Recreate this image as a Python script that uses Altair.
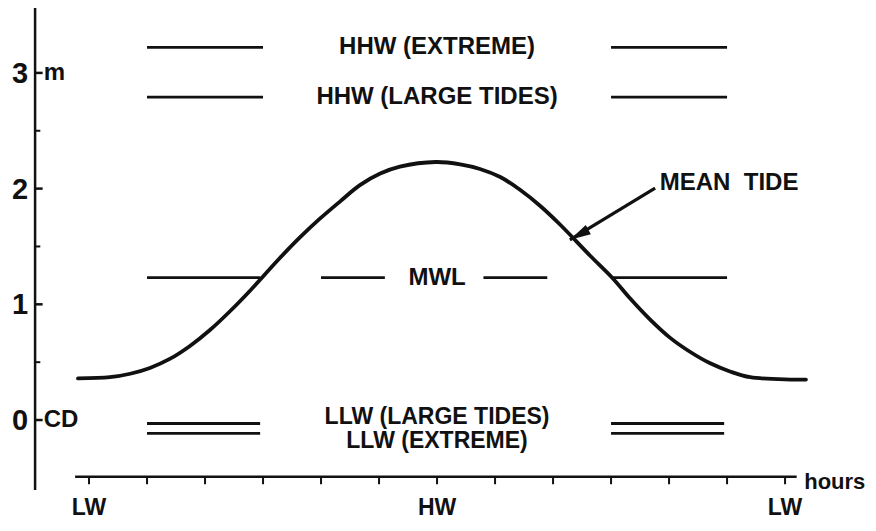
import altair as alt
import pandas as pd

# ---- data (hours after LW, metres above Chart Datum) ----
tide_hours = [-0.19, 0.36, 0.71, 1.05, 1.40, 1.74, 2.09, 2.43, 2.78, 3.29, 3.64, 3.98, 4.33,
              4.67, 5.02, 5.36, 5.98, 6.40, 6.74, 7.09, 7.43, 7.78, 8.12, 8.64, 9.02, 9.33,
              9.67, 10.02, 10.36, 10.71, 11.05, 11.40, 12.09, 12.36]
tide_levels = [0.36, 0.37, 0.40, 0.45, 0.53, 0.64, 0.78, 0.94, 1.12, 1.40, 1.58, 1.74, 1.89,
               2.03, 2.13, 2.19, 2.23, 2.21, 2.17, 2.10, 1.99, 1.85, 1.69, 1.42, 1.23, 1.05,
               0.87, 0.71, 0.59, 0.49, 0.42, 0.37, 0.35, 0.35]

# reference level segments
seg_start = [1.0, 9.0, 1.0, 9.0, 1.0, 4.0, 6.8, 9.0, 1.0, 9.0, 1.0, 9.0]
seg_end = [3.0, 11.0, 3.0, 11.0, 2.95, 5.1, 7.9, 11.0, 2.95, 10.95, 2.95, 10.95]
seg_level = [3.22, 3.22, 2.79, 2.79, 1.23, 1.23, 1.23, 1.23, -0.03, -0.03, -0.115, -0.115]

# level labels
label_text = ["HHW (EXTREME)", "HHW (LARGE TIDES)", "MWL", "LLW (LARGE TIDES)", "LLW (EXTREME)"]
label_hour = [6.0, 6.0, 6.0, 6.0, 6.0]
label_level = [3.22, 2.79, 1.23, 0.025, -0.185]
label_size = [24, 24, 24, 23, 23]

# axes
y_major = [0, 1, 2, 3]
y_major_text = ["0", "1", "2", "3"]
y_minor = [0.5, 1.5, 2.5]
y_unit_text = ["CD", "m"]
y_unit_level = [0, 3]
x_ticks = list(range(13))
x_label_text = ["LW", "HW", "LW"]
x_label_hour = [0, 6, 12]

# arrow "MEAN TIDE"
arrow_from = (9.76, 2.005)
arrow_tip = (8.29, 1.556)
arrow_head = (8.45, 1.601)

# ---- scales (no built-in axes, everything drawn through these scales) ----
xs = alt.Scale(domain=[-1.397, 13.43], nice=False, zero=False)
ys = alt.Scale(domain=[-0.890, 3.561], nice=False, zero=False)
FONT = "Liberation Sans"
INK = "#111111"

def X(f="h"):
    return alt.X(f"{f}:Q", scale=xs, axis=None)

def Y(f="m"):
    return alt.Y(f"{f}:Q", scale=ys, axis=None)

tide_df = pd.DataFrame({"h": tide_hours, "m": tide_levels})
tide = alt.Chart(tide_df).mark_line(interpolate="catmull-rom", color=INK, strokeWidth=3.8,
                                    strokeCap="round").encode(x=X(), y=Y())

seg_df = pd.DataFrame({"h": seg_start, "h2": seg_end, "m": seg_level})
segs = alt.Chart(seg_df).mark_rule(color=INK, strokeWidth=2.8).encode(
    x=X(), x2="h2:Q", y=Y())

lab_df = pd.DataFrame({"t": label_text, "h": label_hour, "m": label_level, "s": label_size})
labels = alt.Chart(lab_df).mark_text(font=FONT, fontWeight="bold",
                                     align="center", baseline="middle", color=INK).encode(
    x=X(), y=Y(), text="t:N", size=alt.Size("s:Q", scale=None, legend=None))

# y axis
yaxis_df = pd.DataFrame({"h": [-0.93], "m": [-0.605], "m2": [3.56]})
yaxis = alt.Chart(yaxis_df).mark_rule(color=INK, strokeWidth=2.5).encode(
    x=X(), y=Y(), y2="m2:Q")
ymaj_df = pd.DataFrame({"h": [-0.93] * 4, "h2": [-0.80] * 4, "m": y_major, "t": y_major_text})
ymaj = alt.Chart(ymaj_df).mark_rule(color=INK, strokeWidth=2.5).encode(x=X(), x2="h2:Q", y=Y())
ymin_df = pd.DataFrame({"h": [-0.93] * 3, "h2": [-0.84] * 3, "m": y_minor})
ymin = alt.Chart(ymin_df).mark_rule(color=INK, strokeWidth=2).encode(x=X(), x2="h2:Q", y=Y())
ylab = alt.Chart(ymaj_df).mark_text(font=FONT, fontWeight="bold", fontSize=29, align="right",
                                    baseline="middle", dx=-7, dy=1, color=INK).encode(
    x=X(), y=Y(), text="t:N")
yunit_df = pd.DataFrame({"h": [-0.80] * 2, "m": y_unit_level, "t": y_unit_text})
yunit = alt.Chart(yunit_df).mark_text(font=FONT, fontWeight="bold", fontSize=24, align="left",
                                      baseline="middle", dx=1, color=INK).encode(
    x=X(), y=Y(), text="t:N")

# x axis
xaxis_df = pd.DataFrame({"h": [-0.24], "h2": [12.2], "m": [-0.49]})
xaxis = alt.Chart(xaxis_df).mark_rule(color=INK, strokeWidth=2.5).encode(x=X(), x2="h2:Q", y=Y())
xt_df = pd.DataFrame({"h": x_ticks, "m": [-0.49] * 13, "m2": [-0.555] * 13})
xt = alt.Chart(xt_df).mark_rule(color=INK, strokeWidth=2).encode(x=X(), y=Y(), y2="m2:Q")
xl_df = pd.DataFrame({"h": x_label_hour, "m": [-0.76] * 3, "t": x_label_text})
xl = alt.Chart(xl_df).mark_text(font=FONT, fontWeight="bold", fontSize=23, align="center",
                                baseline="middle", color=INK).encode(x=X(), y=Y(), text="t:N")
hours_df = pd.DataFrame({"h": [12.33], "m": [-0.535], "t": ["hours"]})
hours = alt.Chart(hours_df).mark_text(font=FONT, fontWeight="bold", fontSize=22, align="left",
                                      baseline="middle", color=INK).encode(x=X(), y=Y(), text="t:N")

# arrow
arr_df = pd.DataFrame({"h": [arrow_from[0]], "m": [arrow_from[1]],
                       "h2": [arrow_tip[0]], "m2": [arrow_tip[1]]})
arr = alt.Chart(arr_df).mark_rule(color=INK, strokeWidth=3.2).encode(
    x=X(), y=Y(), x2="h2:Q", y2="m2:Q")
head_df = pd.DataFrame({"h": [arrow_head[0]], "m": [arrow_head[1]]})
head = alt.Chart(head_df).mark_point(shape="M0,-1L0.5,1L-0.5,1Z", filled=True, opacity=1,
                                     color=INK, size=440, angle=241).encode(x=X(), y=Y())
mt_df = pd.DataFrame({"h": [9.84], "m": [2.05], "t": ["MEAN\u00a0\u00a0TIDE"]})
mt = alt.Chart(mt_df).mark_text(font=FONT, fontWeight="bold", fontSize=24, align="left",
                                baseline="middle", color=INK).encode(x=X(), y=Y(), text="t:N")

chart = alt.layer(segs, tide, labels, yaxis, ymaj, ymin, ylab, yunit, xaxis, xt, xl, hours,
                  arr, head, mt).properties(
    width=860, height=515, padding=0, autosize=alt.AutoSizeParams(type="none"),
    background="white"
).configure_view(stroke=None)

chart.save("out.html", embed_options={"renderer": "svg", "actions": False})
